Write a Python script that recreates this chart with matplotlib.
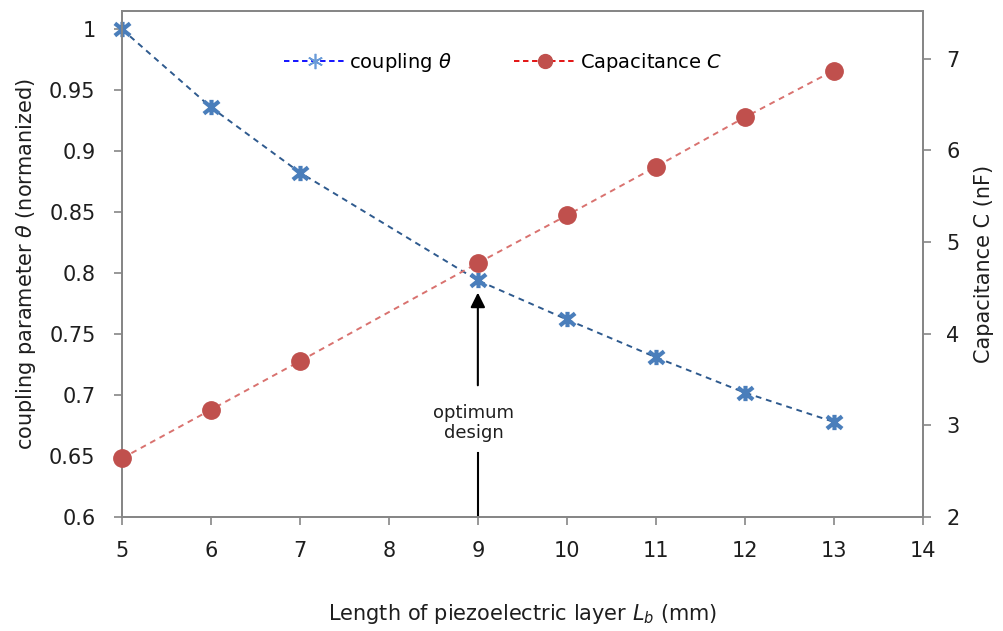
import numpy as np
import matplotlib
matplotlib.use("Agg")
import matplotlib.pyplot as plt
from matplotlib.path import Path
from matplotlib.lines import Line2D

plt.rcParams['font.family'] = ['DejaVu Sans']
plt.rcParams['mathtext.fontset'] = 'dejavusans'

# data
length_mm = [5, 6, 7, 9, 10, 11, 12, 13]
coupling = [1.0, 0.936, 0.8825, 0.794, 0.762, 0.731, 0.702, 0.678]
capacitance = [2.64, 3.17, 3.70, 4.77, 5.29, 5.82, 6.36, 6.87]

x_ticks = [5, 6, 7, 8, 9, 10, 11, 12, 13, 14]
left_ticks = [0.6, 0.65, 0.7, 0.75, 0.8, 0.85, 0.9, 0.95, 1.0]
left_labels = ['0.6', '0.65', '0.7', '0.75', '0.8', '0.85', '0.9', '0.95', '1']
right_ticks = [2, 3, 4, 5, 6, 7]

# excel-like star marker: an x with a vertical bar
star = Path([(-1, -0.8), (1, 0.8), (-1, 0.8), (1, -0.8), (0, -1), (0, 1)],
            [Path.MOVETO, Path.LINETO, Path.MOVETO, Path.LINETO,
             Path.MOVETO, Path.LINETO])

grey = '#868686'
txt = '#1e1e1e'
fig = plt.figure(figsize=(10.04, 6.31), dpi=100)
ax = fig.add_subplot(111)
fig.subplots_adjust(left=0.1215, right=0.919, top=0.9826, bottom=0.1807)
ax2 = ax.twinx()

ax.plot(length_mm, coupling, linestyle=(0, (3, 2.5)), color='#2E5A8E', lw=1.4,
        marker=star, markersize=11, markeredgewidth=3, markeredgecolor='#4A7EBB',
        markerfacecolor='none', clip_on=False, zorder=3)
ax2.plot(length_mm, capacitance, linestyle=(0, (3, 2.5)), color='#D9726F', lw=1.4,
         marker='o', markersize=12.5, markerfacecolor='#C0504D',
         markeredgecolor='#C0504D', clip_on=False, zorder=3)

ax.set_xlim(5, 14)
ax.set_ylim(0.6, 1.015)
ax2.set_ylim(2, 7.52)
ax.set_xticks(x_ticks)
ax.set_yticks(left_ticks)
ax.set_yticklabels(left_labels)
ax2.set_yticks(right_ticks)

for a in (ax, ax2):
    for s in a.spines.values():
        s.set_color(grey)
        s.set_linewidth(1.3)
    a.tick_params(direction='out', length=6, width=1.2, color=grey,
                  labelsize=15, labelcolor=txt)
ax.tick_params(axis='y', pad=13)
ax.tick_params(axis='x', pad=11)
ax2.tick_params(axis='y', pad=11)

ax.set_xlabel('Length of piezoelectric layer $L_b$ (mm)', fontsize=15,
              labelpad=30, color=txt)
ax.set_ylabel(r'coupling parameter $\theta$ (normanized)', fontsize=15,
              labelpad=8, color=txt)
ax2.set_ylabel('Capacitance C (nF)', fontsize=15, labelpad=10, color=txt)

# optimum design arrow
ax.annotate('', xy=(9, 0.784), xytext=(9, 0.708),
            arrowprops=dict(arrowstyle='-|>', color='black', lw=1.5,
                            mutation_scale=22, shrinkA=0, shrinkB=0))
ax.plot([9, 9], [0.6, 0.6525], color='black', lw=1.5)
ax.text(8.95, 0.677, 'optimum\ndesign', ha='center', va='center',
        fontsize=13, linespacing=1.15, color=txt)

handles = [
    Line2D([], [], linestyle=(0, (3, 2)), color='#0000FF', lw=1.3,
           marker=(6, 2, 0), markersize=11, markeredgewidth=1.2,
           markeredgecolor='#6A9BD8'),
    Line2D([], [], linestyle=(0, (3, 2)), color='#E00000', lw=1.3,
           marker='o', markersize=10, markerfacecolor='#C0504D',
           markeredgecolor='#C0504D'),
]
ax.legend(handles, [r'coupling $\theta$', 'Capacitance $C$'], ncol=2,
          frameon=False, loc='center', bbox_to_anchor=(0.476, 0.899),
          fontsize=14, handlelength=3.2, columnspacing=3.2, handletextpad=0.15)

fig.savefig('out.png', dpi=100)
